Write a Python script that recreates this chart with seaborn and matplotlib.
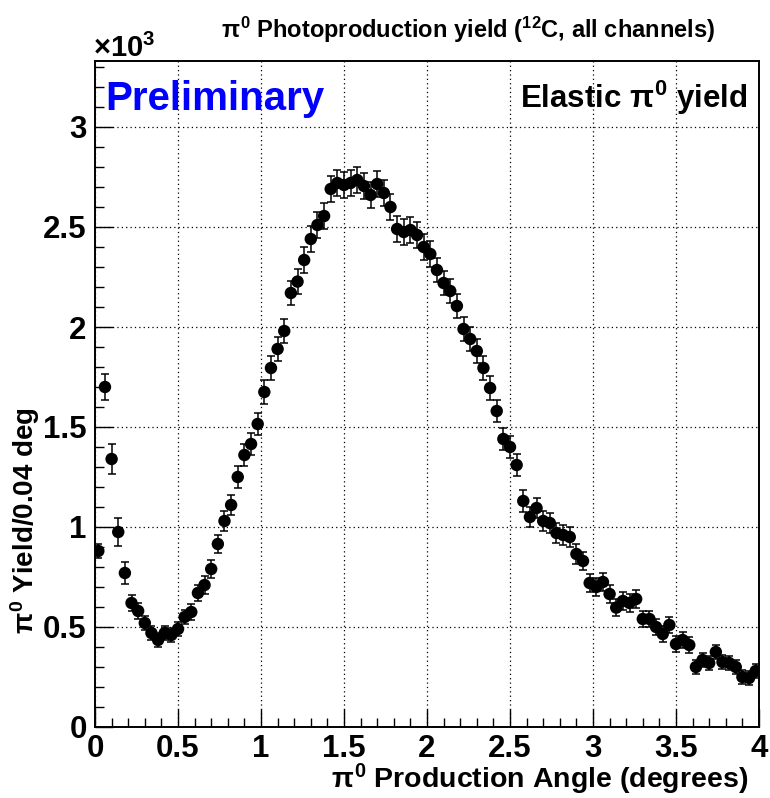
import numpy as np
import pandas as pd
import matplotlib
matplotlib.use("Agg")
import matplotlib.pyplot as plt
from matplotlib.ticker import MultipleLocator, FuncFormatter
import seaborn as sns

# Elastic pi0 photoproduction yield on 12C, 0.04 deg bins from 0 to 4 deg
bin_width = 0.04
angle_centers = np.arange(100) * bin_width + bin_width / 2

yield_counts = [
    880, 1700, 1340, 975, 770, 620, 580, 520, 470, 435,
    470, 460, 490, 550, 575, 670, 710, 790, 915, 1030,
    1110, 1250, 1360, 1415, 1515, 1675, 1795, 1890, 1980, 2170,
    2227, 2335, 2440, 2510, 2555, 2690, 2720, 2710, 2720, 2735,
    2705, 2660, 2715, 2670, 2600, 2490, 2475, 2485, 2460, 2400,
    2365, 2285, 2220, 2180, 2105, 1990, 1940, 1880, 1795, 1695,
    1580, 1440, 1400, 1310, 1130, 1050, 1095, 1030, 1020, 970,
    960, 950, 865, 830, 720, 700, 725, 665, 597, 630,
    620, 640, 540, 540, 500, 465, 510, 415, 435, 410,
    300, 335, 320, 375, 325, 320, 300, 250, 245, 280,
]

yield_errors = [
    37, 65, 75, 70, 53, 42, 40, 36, 34, 33,
    34, 34, 35, 37, 38, 42, 43, 45, 47, 50,
    52, 54, 55, 56, 57, 60, 60, 61, 61, 62,
    62, 63, 63, 64, 64, 65, 65, 65, 66, 66,
    66, 66, 66, 65, 65, 64, 64, 64, 64, 63,
    63, 62, 62, 62, 61, 60, 60, 59, 59, 58,
    57, 56, 56, 55, 53, 52, 52, 51, 51, 50,
    50, 50, 48, 47, 45, 45, 45, 44, 43, 43,
    43, 43, 41, 41, 40, 39, 40, 38, 38, 38,
    35, 36, 35, 37, 36, 35, 35, 33, 33, 34,
]

x_ticks = [0, 0.5, 1, 1.5, 2, 2.5, 3, 3.5, 4]
y_ticks = [0, 500, 1000, 1500, 2000, 2500, 3000]

df = pd.DataFrame({"angle": angle_centers, "counts": yield_counts, "err": yield_errors})

sns.set_theme(style="ticks")
plt.rcParams["font.family"] = ["Liberation Sans", "DejaVu Sans"]
plt.rcParams["font.weight"] = "bold"
plt.rcParams["text.color"] = "black"
plt.rcParams["axes.labelcolor"] = "black"
plt.rcParams["xtick.color"] = "black"
plt.rcParams["ytick.color"] = "black"
plt.rcParams["mathtext.fontset"] = "custom"
plt.rcParams["mathtext.rm"] = "Liberation Sans:bold"
plt.rcParams["mathtext.it"] = "Liberation Sans:bold"
plt.rcParams["mathtext.bf"] = "Liberation Sans:bold"

W, H = 770, 798
fig = plt.figure(figsize=(W / 100, H / 100), dpi=100)
fig.patch.set_facecolor("white")
ax = fig.add_axes([95 / W, (H - 727) / H, 664 / W, 666 / H])
ax.set_facecolor("white")

ax.errorbar(df["angle"], df["counts"], yerr=df["err"], fmt="none",
            ecolor="black", elinewidth=1.1, capsize=3.0, capthick=1.1, zorder=2)
sns.scatterplot(data=df, x="angle", y="counts", ax=ax, color="black",
                s=80, edgecolor="none", linewidth=0, zorder=3, legend=False)

ax.set_xlim(0, 4)
ax.set_ylim(0, 3330)
ax.set_xticks(x_ticks)
ax.set_yticks(y_ticks)
ax.xaxis.set_minor_locator(MultipleLocator(0.1))
ax.yaxis.set_minor_locator(MultipleLocator(100))
ax.xaxis.set_major_formatter(FuncFormatter(lambda v, p: f"{v:g}"))
ax.yaxis.set_major_formatter(FuncFormatter(lambda v, p: f"{v / 1000:g}"))

ax.tick_params(axis="both", which="major", direction="in", length=13, width=1.0,
               labelsize=22.5, color="black", labelcolor="black")
ax.tick_params(axis="both", which="minor", direction="in", length=6.5, width=1.0,
               color="black")
ax.tick_params(axis="x", which="major", pad=5)
ax.tick_params(axis="y", which="major", pad=6)
for lab in ax.get_xticklabels() + ax.get_yticklabels():
    lab.set_fontweight("bold")

ax.grid(True, which="major", color="black", linestyle=(0, (1, 2.5)), linewidth=0.9)
for sp in ax.spines.values():
    sp.set_visible(True)
    sp.set_linewidth(1.4)
    sp.set_color("black")
ax.set_xlabel("")
ax.set_ylabel("")

def fx(px):
    return px / W

def fy(py):
    return 1 - py / H

fig.text(fx(468), fy(30), r"$\pi^{0}$ Photoproduction yield ($^{12}$C, all channels)",
         ha="center", va="center", fontsize=17, fontweight="bold", color="black")
fig.text(fx(93), fy(57), r"$\times$10$^{3}$", ha="left", va="baseline",
         fontsize=21, fontweight="bold", color="black")
fig.text(fx(105), fy(110), "Preliminary", ha="left", va="baseline",
         fontsize=29, fontweight="bold", color="#0000ff")
fig.text(fx(748), fy(108), r"Elastic $\pi^{0}$ yield", ha="right", va="baseline",
         fontsize=22.5, fontweight="bold", color="black")
fig.text(fx(748), fy(788), r"$\pi^{0}$ Production Angle (degrees)", ha="right",
         va="baseline", fontsize=20.5, fontweight="bold", color="black")
fig.text(fx(25), fy(521), r"$\pi^{0}$ Yield/0.04 deg", ha="center", va="center",
         rotation=90, fontsize=20, fontweight="bold", color="black")

fig.savefig("out.png", dpi=100, facecolor="white")
